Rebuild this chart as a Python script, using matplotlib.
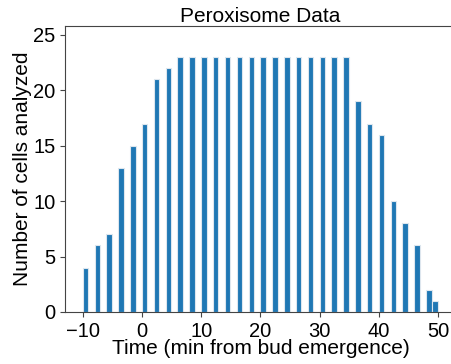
import matplotlib
matplotlib.use("Agg")
import matplotlib.pyplot as plt
import numpy as np

plt.rcParams['font.family'] = ['Liberation Sans', 'DejaVu Sans']

# time points (min from bud emergence) and number of cells at each
time_min = [-10, -8, -6, -4, -2, 0, 2, 4, 6, 8, 10, 12, 14, 16, 18, 20, 22, 24,
            26, 28, 30, 32, 34, 36, 38, 40, 42, 44, 46, 48, 49]
n_cells = [4, 6, 7, 13, 15, 17, 21, 22, 23, 23, 23, 23, 23, 23, 23, 23, 23, 23,
           23, 23, 23, 23, 23, 19, 17, 16, 10, 8, 6, 2, 1]

fig = plt.figure(figsize=(4.51, 3.64), dpi=100)
ax = fig.add_axes([0.1441, 0.1429, 0.8665, 0.7857])

ax.bar(time_min, n_cells, width=0.92, align='edge', color='#1f77b4',
       edgecolor='#dde6ee', linewidth=0.8)

ax.set_xlim(-13, 53)
ax.set_ylim(0, 25.8)
ax.set_xticks([-10, 0, 10, 20, 30, 40, 50])
ax.set_yticks([0, 5, 10, 15, 20, 25])
ax.tick_params(labelsize=14.5, length=3.5, color='#444444')
for s in ax.spines.values():
    s.set_color('#444444')

ax.set_xlabel("Time (min from bud emergence)", fontsize=15, labelpad=-1)
ax.set_ylabel("Number of cells analyzed", fontsize=15, labelpad=1)
ax.set_title("Peroxisome Data", fontsize=15, pad=1)

fig.savefig("out.png", dpi=100)
